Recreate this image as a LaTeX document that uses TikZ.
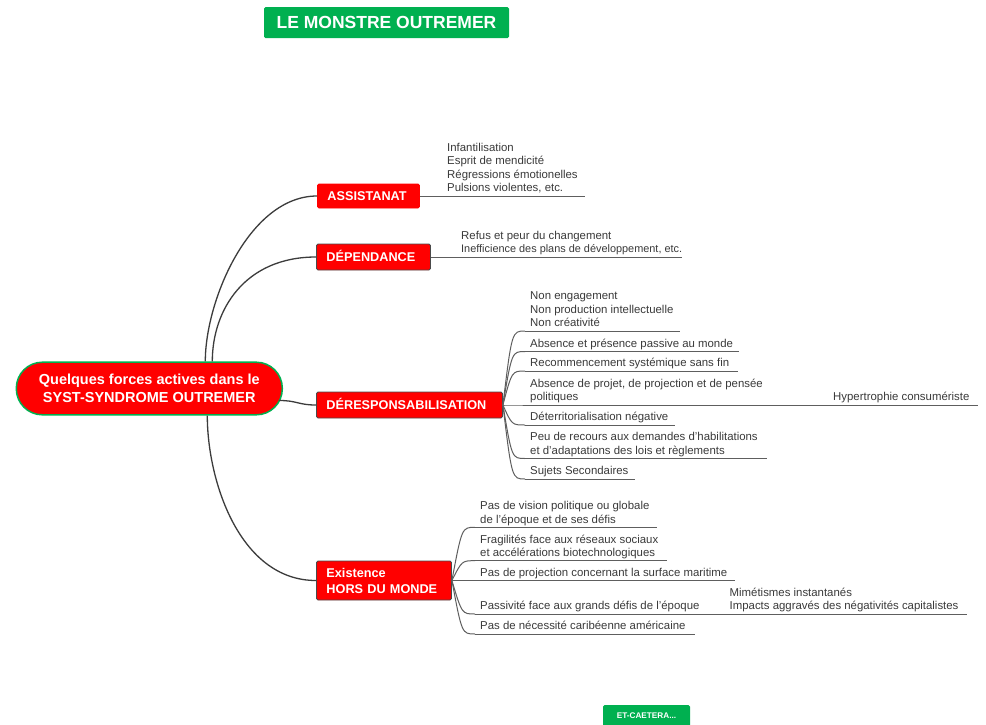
\documentclass[tikz,border=0pt]{standalone}
\usepackage{fontspec}
\setmainfont{Liberation Sans}
\definecolor{mmred}{HTML}{FF0000}
\definecolor{mmgreen}{HTML}{00B050}
\definecolor{txtgray}{HTML}{3A3A3A}
\definecolor{linegray}{HTML}{5E5E5E}
\definecolor{curvegray}{HTML}{3C3C3C}
\definecolor{boxborder}{HTML}{4A4A4A}
\newcommand\leaffont{\fontsize{11.4}{13.5}\selectfont}
\newcommand\lstrut{\rule[-4pt]{0pt}{12pt}}
\newcommand\leafnode[5]{%
  \node[leaf] (#1) at (#2,#3) {#5\lstrut};
  \draw[leafline] (#1.south west) -- ++(#4,0) coordinate (#1-end);
}
\begin{document}
\begin{tikzpicture}[x=1pt,y=-1pt,
  leaf/.style={anchor=south west, inner xsep=5pt, inner ysep=0pt, align=left, font=\leaffont, text=txtgray},
  leafline/.style={draw=linegray, line width=1pt},
  conn/.style={draw=linegray, line width=1pt},
  rootconn/.style={draw=curvegray, line width=1.3pt},
  topicbase/.style={anchor=west, fill=mmred, draw=boxborder, line width=0.9pt, rounded corners=1.5pt,
    text=white, font=\bfseries\fontsize{12.7}{16}\selectfont, inner xsep=10pt, inner ysep=0pt, align=left},
  topic/.style={topicbase, text height=9.2pt, text depth=0pt},
  rootnode/.style={fill=mmred, draw=mmgreen, line width=1.5pt, rounded corners=26pt,
    minimum width=266pt, minimum height=52.6pt, inner sep=0pt, align=center, text=white,
    font=\bfseries\fontsize{14.5}{17.5}\selectfont},
  greenbox/.style={fill=mmgreen, rounded corners=1.5pt, text=white, inner sep=0pt}
]
\useasboundingbox (0,0) rectangle (986,724);
\fill[white] (0,0) rectangle (986,724);

% title and footer
\node[greenbox, minimum width=245pt, minimum height=31pt, text height=12.5pt, text depth=0pt,
  font=\bfseries\fontsize{17.5}{20}\selectfont] (title) at (386.5,22.5) {LE MONSTRE OUTREMER};
\node[greenbox, minimum width=87pt, minimum height=22pt, text height=5.9pt, text depth=0pt,
  font=\bfseries\fontsize{8.2}{10}\selectfont] (etc) at (646.5,716) {ET-CAETERA...};

% root and main topics
\node[rootnode] (root) at (149.3,388.5) {Quelques forces actives dans le\\SYST-SYNDROME OUTREMER};
\node[topic, text width=82pt, minimum height=24pt, draw=mmred] (as) at (317,196) {ASSISTANAT};
\node[topic, text width=94pt, minimum height=26pt] (dep) at (316,257) {DÉPENDANCE};
\node[topic, text width=166pt, minimum height=26pt] (dr) at (316,405) {DÉRESPONSABILISATION};
\node[topicbase, text width=115pt, minimum height=39pt] (ex) at (316,580.5) {Existence\\HORS DU MONDE};

\coordinate (r1) at ([xshift=56pt]root.north);
\coordinate (r2) at ([xshift=63pt]root.north);
\coordinate (r3) at ([shift={(130pt,-12pt)}]root.center);
\coordinate (r4) at ([xshift=58pt]root.south);
\draw[rootconn] (r1) .. controls +(0,-62) and +(-67,0) .. (as.west);
\draw[rootconn] (r2) .. controls +(0,-52) and +(-71,0) .. (dep.west);
\draw[rootconn] (r3) .. controls +(18,0) and +(-18,0) .. (dr.west);
\draw[rootconn] (r4) .. controls +(0,66) and +(-76,0) .. (ex.west);

% ASSISTANAT
\leafnode{a1}{442}{196}{143}{Infantilisation\\Esprit de mendicité\\Régressions émotionelles\\Pulsions violentes, etc.}
\draw[conn] (as.east) -- (a1.south west);

% DEPENDANCE
\leafnode{p1}{456}{257}{226}{Refus et peur du changement\\{\fontsize{10.9}{13.5}\selectfont Inefficience des plans de développement, etc.}}
\draw[conn] (dep.east) -- (p1.south west);

% DERESPONSABILISATION
\leafnode{d1}{525}{331}{155}{Non engagement\\Non production intellectuelle\\Non créativité}
\leafnode{d2}{525}{351.5}{214}{Absence et présence passive au monde}
\leafnode{d3}{525}{371}{213}{Recommencement systémique sans fin}
\leafnode{d4}{525}{405}{245}{Absence de projet, de projection et de pensée\\politiques}
\leafnode{d5}{525}{425}{150}{Déterritorialisation négative}
\leafnode{d6}{525}{458.5}{242}{Peu de recours aux demandes d'habilitations\\et d'adaptations des lois et règlements}
\leafnode{d7}{525}{479}{110}{Sujets Secondaires}
\leafnode{hyp}{828}{405}{150}{Hypertrophie consumériste}
\coordinate (drk) at ([xshift=9pt]dr.east);
\foreach \n in {d1,d2,d3,d4,d5,d6,d7}
  \draw[conn] (dr.east) .. controls (drk |- \n.south west) .. (\n.south west);
\draw[conn] (d4-end) -- (hyp.south west);

% EXISTENCE HORS DU MONDE
\leafnode{e1}{475}{527.3}{182}{Pas de vision politique ou globale\\de l'époque et de ses défis}
\leafnode{e2}{475}{560.7}{192}{Fragilités face aux réseaux sociaux\\et accélérations biotechnologiques}
\leafnode{e3}{475}{580.5}{260}{Pas de projection concernant la surface maritime}
\leafnode{e4}{475}{614}{230}{Passivité face aux grands défis de l'époque}
\leafnode{e5}{475}{634}{220}{Pas de nécessité caribéenne américaine}
\leafnode{mim}{724.5}{614}{242.5}{Mimétismes instantanés\\Impacts aggravés des négativités capitalistes}
\coordinate (exk) at ([xshift=10pt]ex.east);
\foreach \n in {e1,e2,e3,e4,e5}
  \draw[conn] (ex.east) .. controls (exk |- \n.south west) .. (\n.south west);
\draw[conn] (e4-end) -- (mim.south west);
\end{tikzpicture}
\end{document}
